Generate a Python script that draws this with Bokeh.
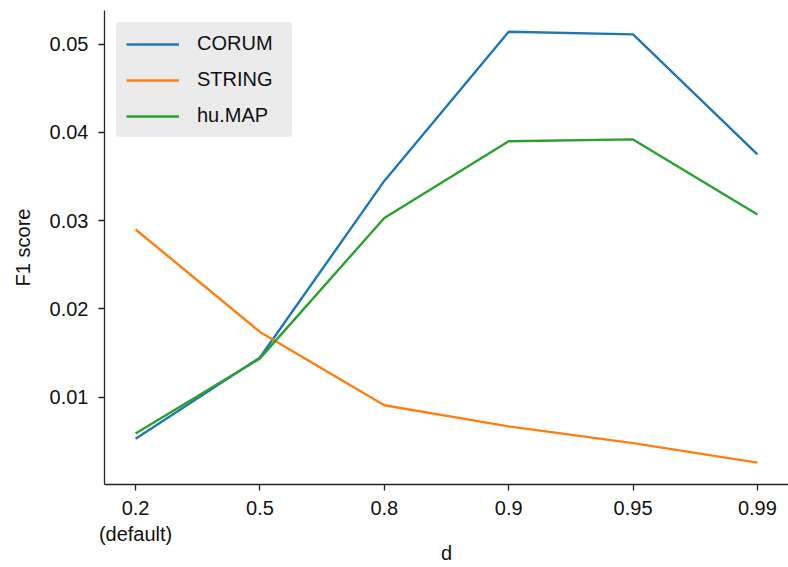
from bokeh.plotting import figure
from bokeh.models import FixedTicker, Range1d, Legend, LegendItem
from bokeh.embed import file_html
from bokeh.resources import INLINE

d_labels = ["0.2\n(default)", "0.5", "0.8", "0.9", "0.95", "0.99"]
corum = [0.0053, 0.0145, 0.0345, 0.0514, 0.0511, 0.0375]
string = [0.0290, 0.0174, 0.0091, 0.0067, 0.0048, 0.0026]
humap = [0.0059, 0.0144, 0.0303, 0.0390, 0.0392, 0.0307]
y_ticks = [0.01, 0.02, 0.03, 0.04, 0.05]

x = list(range(len(d_labels)))
FONT = "Liberation Sans"

p = figure(width=788, height=567, output_backend="svg", toolbar_location=None,
           x_range=Range1d(-0.25, len(d_labels) - 0.75), y_range=Range1d(0.00012, 0.0538),
           min_border_left=104, min_border_bottom=83, min_border_top=10, min_border_right=0)
p.outline_line_color = None
p.xgrid.grid_line_color = None
p.ygrid.grid_line_color = None
p.background_fill_color = "white"
p.border_fill_color = "white"

r1 = p.line(x, corum, line_color="#1f77b4", line_width=2.4)
r2 = p.line(x, string, line_color="#ff7f0e", line_width=2.4)
r3 = p.line(x, humap, line_color="#2ca02c", line_width=2.4)

p.xaxis.ticker = FixedTicker(ticks=x)
p.xaxis.major_label_overrides = {i: lab for i, lab in zip(x, d_labels)}
p.yaxis.ticker = FixedTicker(ticks=y_ticks)
p.yaxis.major_label_overrides = {t: f"{t:.2f}" for t in y_ticks}

for ax in (p.xaxis[0], p.yaxis[0]):
    ax.axis_line_color = "#222222"
    ax.axis_line_width = 1.3
    ax.major_tick_line_color = "#222222"
    ax.major_tick_line_width = 1.3
    ax.major_tick_out = 6
    ax.major_tick_in = 0
    ax.minor_tick_line_color = None
    ax.major_label_text_font = FONT
    ax.major_label_text_font_size = "20px"
    ax.major_label_text_color = "#111111"
    ax.axis_label_text_font = FONT
    ax.axis_label_text_font_size = "20px"
    ax.axis_label_text_font_style = "normal"
    ax.axis_label_text_color = "#111111"

p.xaxis.axis_label = "d"
p.yaxis.axis_label = "F1 score"
p.xaxis.major_label_standoff = 6
p.yaxis.major_label_standoff = 10
p.xaxis.axis_label_standoff = -6
p.yaxis.axis_label_standoff = 13

legend = Legend(items=[LegendItem(label="CORUM", renderers=[r1]),
                       LegendItem(label="STRING", renderers=[r2]),
                       LegendItem(label="hu.MAP", renderers=[r3])],
                location="top_left")
legend.background_fill_color = "#ebebeb"
legend.background_fill_alpha = 1.0
legend.border_line_color = "#ebebeb"
legend.border_line_width = 10
legend.border_radius = 4
legend.label_text_font = FONT
legend.label_text_font_size = "20px"
legend.label_text_color = "#111111"
legend.glyph_width = 53
legend.glyph_height = 20
legend.label_height = 20
legend.label_width = 85
legend.spacing = 13
legend.padding = 0
legend.label_standoff = 18
legend.margin = 12
p.add_layout(legend)

open("out.html", "w").write(file_html(p, INLINE))
